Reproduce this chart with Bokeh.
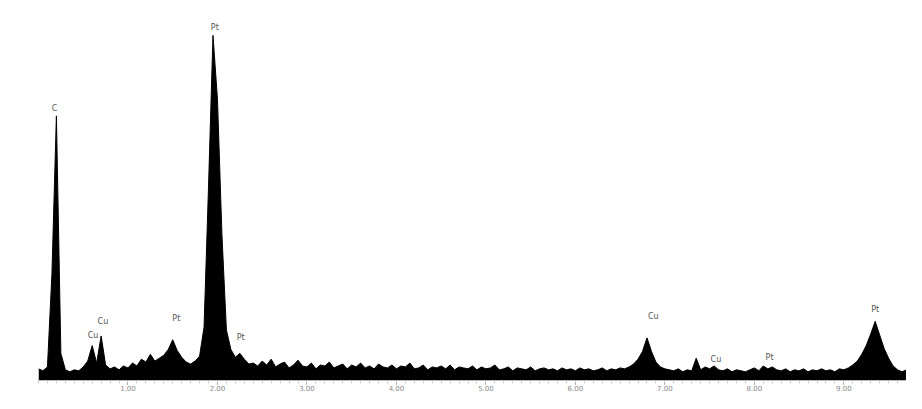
from bokeh.plotting import figure
from bokeh.models import Range1d, FixedTicker, ColumnDataSource
from bokeh.core.properties import value
from bokeh.embed import file_html
from bokeh.resources import INLINE

# ---- data ----
energy_step = 0.05  # keV per channel
counts = [
    12, 10, 14, 110, 273, 28, 11, 9, 11, 10,
    14, 20, 36, 18, 46, 16, 12, 14, 11, 15,
    13, 18, 15, 22, 19, 27, 20, 23, 26, 32,
    42, 31, 24, 19, 17, 20, 25, 55, 200, 356,
    290, 150, 52, 32, 24, 28, 22, 17, 18, 15,
    20, 16, 22, 14, 17, 19, 13, 16, 21, 15,
    14, 18, 12, 16, 15, 19, 13, 15, 17, 12,
    16, 14, 18, 13, 15, 12, 17, 14, 13, 16,
    12, 15, 14, 18, 12, 13, 16, 11, 14, 13,
    15, 12, 16, 11, 14, 13, 12, 15, 11, 14,
    12, 13, 16, 11, 12, 14, 10, 13, 12, 11,
    14, 10, 12, 13, 11, 12, 10, 13, 11, 12,
    10, 13, 11, 12, 10, 11, 13, 10, 12, 11,
    13, 12, 14, 17, 22, 30, 44, 30, 19, 14,
    12, 11, 10, 12, 9, 11, 10, 23, 11, 14,
    12, 15, 11, 10, 12, 9, 11, 10, 9, 11,
    13, 10, 15, 12, 14, 11, 10, 12, 9, 11,
    10, 12, 9, 11, 10, 12, 10, 11, 9, 12,
    11, 13, 16, 20, 27, 36, 48, 61, 47, 33,
    23, 15, 11, 9, 11,
]
energies = [round(i * energy_step, 3) for i in range(len(counts))]

peak_labels = ["C", "Pt", "Cu", "Cu", "Pt", "Pt", "Cu", "Cu", "Pt", "Pt"]
peak_label_energy = [0.18, 1.97, 0.72, 0.61, 1.54, 2.26, 6.87, 7.57, 8.17, 9.35]
peak_label_counts = [281, 364, 61, 46, 64, 44, 66, 22, 24, 73]

tick_values = [1, 2, 3, 4, 5, 6, 7, 8, 9]
tick_labels = ["1.00", "2.00", "3.00", "4.00", "5.00", "6.00", "7.00", "8.00", "9.00"]

# ---- figure ----
p = figure(
    frame_width=868, frame_height=380,
    output_backend="svg", toolbar_location=None,
    x_range=Range1d(0, 9.70), y_range=Range1d(0, 392),
    min_border_left=38, min_border_right=0, min_border_top=0, min_border_bottom=0,
)
p.outline_line_color = None
p.xgrid.visible = False
p.ygrid.visible = False
p.yaxis.visible = False
p.background_fill_color = "white"
p.border_fill_color = "white"

src = ColumnDataSource(dict(e=energies, c=counts, z=[0] * len(counts)))
p.varea(x="e", y1="z", y2="c", source=src, fill_color="black")
p.line(x="e", y="c", source=src, line_color="black", line_width=1)

p.text(x=peak_label_energy, y=peak_label_counts, text=peak_labels,
       text_font=value("DejaVu Sans"), text_font_size="8px",
       text_align="center", text_baseline="middle", text_color="#555555")

minor = [round(i * 0.1, 2) for i in range(0, 98)]
ax = p.xaxis[0]
ax.ticker = FixedTicker(ticks=tick_values, minor_ticks=minor)
ax.major_label_overrides = {t: l for t, l in zip(tick_values, tick_labels)}
ax.axis_line_color = "#bbbbbb"
ax.major_tick_line_color = "#777777"
ax.major_tick_in = 0
ax.major_tick_out = 4
ax.minor_tick_line_color = "#cccccc"
ax.minor_tick_in = 0
ax.minor_tick_out = 3
ax.major_label_standoff = 0
ax.major_label_text_font = "DejaVu Sans"
ax.major_label_text_font_size = "7px"
ax.major_label_text_color = "#888888"

open("out.html", "w").write(file_html(p, INLINE))
